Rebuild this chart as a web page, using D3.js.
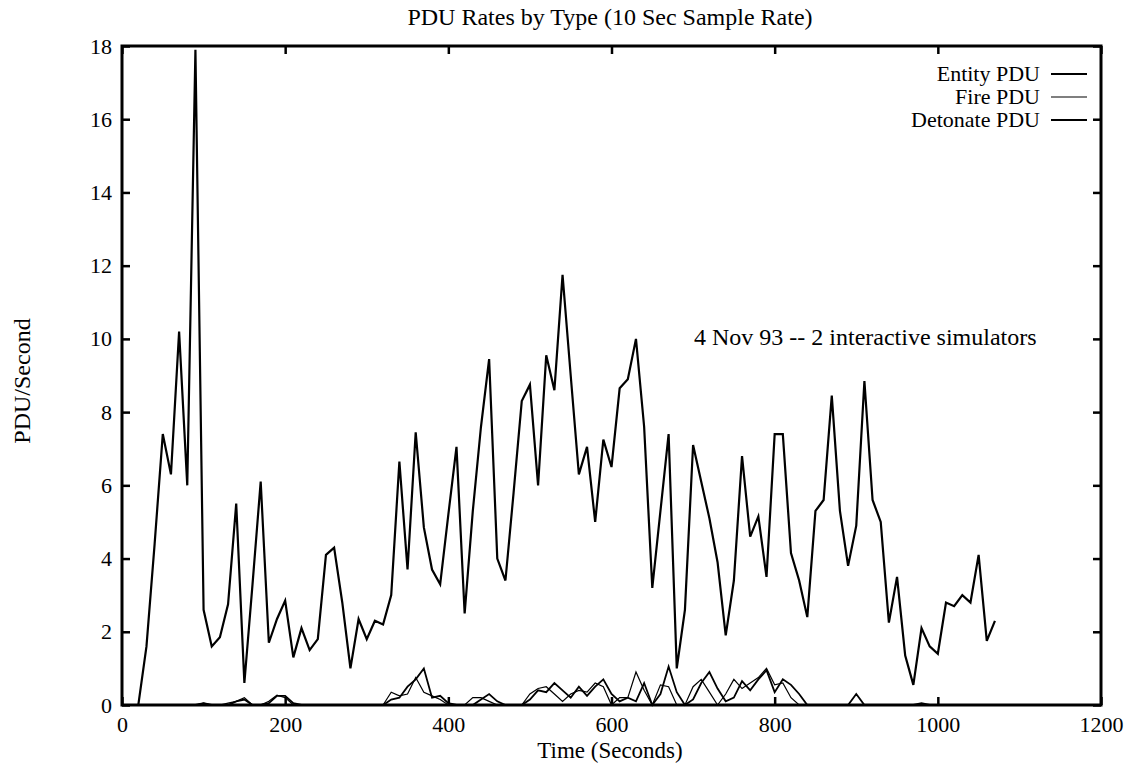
<!DOCTYPE html>
<html><head><meta charset="utf-8">
<script src="https://cdn.jsdelivr.net/npm/d3@7"></script>
<style>body{margin:0;background:#fff}svg{display:block}text{font-family:"Liberation Serif","Times New Roman",serif;fill:#000}</style>
</head><body><svg id="c" width="1126" height="764"></svg>
<script>
const times = d3.range(0, 1080, 10);
const entity = [0,0,0,1.6,4.4,7.4,6.3,10.2,6.0,17.9,2.6,1.6,1.85,2.75,5.5,0.6,3.3,6.1,1.7,2.35,2.85,1.3,2.1,1.5,1.8,4.1,4.3,2.8,1.0,2.35,1.8,2.3,2.2,3.0,6.65,3.7,7.45,4.85,3.7,3.3,5.2,7.05,2.5,5.3,7.6,9.45,4.0,3.4,5.8,8.3,8.75,6.0,9.55,8.6,11.75,9.0,6.3,7.05,5.0,7.25,6.5,8.65,8.9,10.0,7.6,3.2,5.3,7.4,1.0,2.6,7.1,6.1,5.1,3.9,1.9,3.4,6.8,4.6,5.15,3.5,7.4,7.4,4.15,3.4,2.4,5.3,5.6,8.45,5.3,3.8,4.9,8.85,5.6,5.0,2.25,3.5,1.35,0.55,2.1,1.6,1.4,2.8,2.7,3.0,2.8,4.1,1.75,2.3];
const fire = [0,0,0,0,0,0,0,0,0,0,0.05,0,0,0.05,0.1,0.2,0,0,0.1,0.27,0.2,0,0,0,0,0,0,0,0,0,0,0,0,0.35,0.25,0.3,0.75,0.35,0.25,0.15,0,0,0,0.2,0.2,0.1,0,0,0,0,0.3,0.45,0.5,0.3,0.1,0.3,0.4,0.35,0.6,0.5,0,0.2,0.2,0.9,0.4,0,0.55,0.5,0,0,0.5,0.7,0.35,0,0.3,0.7,0.45,0.6,0.75,1.0,0.55,0.6,0.2,0,0,0,0,0,0,0,0,0,0,0,0,0,0,0,0,0,0,0,0,0,0,0,0,0];
const detonate = [0,0,0,0,0,0,0,0,0,0,0.05,0,0,0,0.1,0.15,0,0,0.05,0.25,0.25,0.05,0,0,0,0,0,0,0,0,0,0,0,0.15,0.2,0.5,0.7,1.0,0.2,0.25,0.05,0,0,0,0.15,0.3,0.1,0,0,0,0.15,0.4,0.35,0.6,0.4,0.2,0.5,0.25,0.5,0.7,0.3,0.1,0.2,0.1,0.6,0,0.3,1.05,0.35,0,0.15,0.6,0.9,0.45,0.1,0.2,0.65,0.4,0.7,0.95,0.35,0.7,0.55,0.3,0,0,0,0,0,0,0.3,0,0,0,0,0,0,0,0.05,0,0,0,0,0,0,0,0,0];
const xTicks = [0,200,400,600,800,1000,1200];
const yTicks = [0,2,4,6,8,10,12,14,16,18];
const legendNames = ["Entity PDU","Fire PDU","Detonate PDU"];
const title = "PDU Rates by Type (10 Sec Sample Rate)";
const xLabel = "Time (Seconds)";
const yLabel = "PDU/Second";
const note = "4 Nov 93 -- 2 interactive simulators";

const svg = d3.select("#c");
const L=122,R=1101,T=46,B=705;
const x = d3.scaleLinear().domain([0,1200]).range([L,R]);
const y = d3.scaleLinear().domain([0,18]).range([B,T]);
const fs = 22;

const gb = svg.append("g").attr("transform",`translate(0,${B})`)
  .call(d3.axisBottom(x).tickValues(xTicks).tickSizeInner(-8).tickSizeOuter(0).tickPadding(11).tickFormat(d3.format("d")));
const gl = svg.append("g").attr("transform",`translate(${L},0)`)
  .call(d3.axisLeft(y).tickValues(yTicks).tickSizeInner(-8).tickSizeOuter(0).tickPadding(10).tickFormat(d3.format("d")));
const gt = svg.append("g").attr("transform",`translate(0,${T})`)
  .call(d3.axisTop(x).tickValues(xTicks).tickSizeInner(-8).tickSizeOuter(0).tickFormat(""));
const gr = svg.append("g").attr("transform",`translate(${R},0)`)
  .call(d3.axisRight(y).tickValues(yTicks).tickSizeInner(-8).tickSizeOuter(0).tickFormat(""));
[gb,gl,gt,gr].forEach(g=>{
  g.select(".domain").remove();
  g.selectAll(".tick line").attr("stroke","#000").attr("stroke-width",2.5);
  g.selectAll("text").style("font-family",'"Liberation Serif",serif').style("font-size",fs+"px").attr("fill","#000");
});
svg.append("rect").attr("x",L).attr("y",T).attr("width",R-L).attr("height",B-T)
  .attr("fill","none").attr("stroke","#000").attr("stroke-width",3);

const line = d3.line().x((d,i)=>x(times[i])).y(d=>y(d));
svg.append("path").datum(fire).attr("d",line).attr("fill","none").attr("stroke","#000").attr("stroke-width",1.2);
svg.append("path").datum(detonate).attr("d",line).attr("fill","none").attr("stroke","#000").attr("stroke-width",1.8);
svg.append("path").datum(entity).attr("d",line).attr("fill","none").attr("stroke","#000").attr("stroke-width",2.2);

svg.append("text").attr("x",610).attr("y",25).attr("text-anchor","middle").style("font-size","24px").text(title);
svg.append("text").attr("x",610).attr("y",758).attr("text-anchor","middle").style("font-size","23px").text(xLabel);
svg.append("text").attr("transform","translate(30,381) rotate(-90)").attr("text-anchor","middle").style("font-size","24px").text(yLabel);
svg.append("text").attr("x",694).attr("y",345).attr("text-anchor","start").style("font-size","24px").text(note);

const widths=[2.2,1.2,2.2];
legendNames.forEach((n,i)=>{
  const yy = 74 + i*23;
  svg.append("text").attr("x",1040).attr("y",yy+7).attr("text-anchor","end").style("font-size","22px").text(n);
  svg.append("line").attr("x1",1051).attr("x2",1087).attr("y1",yy).attr("y2",yy).attr("stroke","#000").attr("stroke-width",widths[i]);
});
</script></body></html>
